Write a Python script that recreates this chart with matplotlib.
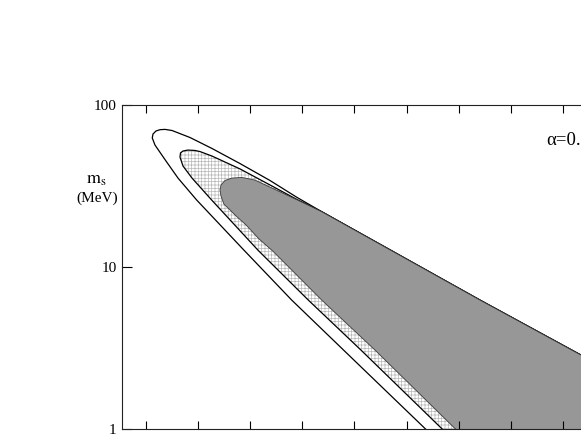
import numpy as np
import matplotlib
matplotlib.use("Agg")
import matplotlib.pyplot as plt
from matplotlib.ticker import FixedLocator, NullLocator, FixedFormatter

plt.rcParams['font.family'] = ['Liberation Serif', 'DejaVu Serif']
plt.rcParams['mathtext.fontset'] = 'stix'
plt.rcParams['hatch.linewidth'] = 0.5

# common upper edge (all three regions merge onto it)
ridge_x = [4.377, 7.404, 9.339, 12.385]
ridge_m = [21.9, 6.25, 2.86, 0.832]

# outer contour (white, black outline)
outer_x = [6.983, 6.351, 5.067, 3.797, 2.883, 1.977, 1.619, 1.389, 1.178, 1.126, 1.140, 1.197,
           1.274, 1.370, 1.504, 1.849, 2.270, 2.807, 3.381, 3.898]
outer_m = [0.644, 1.007, 2.52, 6.25, 12.7, 25.9, 35.4, 45.1, 56.6, 62.6, 66.2, 69.1,
           70.4, 70.7, 69.6, 63.0, 53.9, 43.5, 34.2, 26.9]

# middle contour (cross hatched)
mid_x = [7.289, 6.670, 5.124, 4.115, 3.151, 2.264, 1.887, 1.715, 1.657, 1.667, 1.715, 1.810,
         1.944, 2.040, 2.270, 2.807, 3.381, 3.898]
mid_m = [0.644, 1.007, 3.07, 6.25, 12.7, 25.9, 35.4, 42.0, 47.7, 50.6, 52.0, 52.7,
         52.4, 51.6, 48.4, 40.3, 32.1, 26.1]

# inner region (grey)
gray_x = [7.557, 6.925, 5.393, 4.372, 3.439, 3.171, 2.921, 2.728, 2.596, 2.500, 2.443, 2.423,
          2.443, 2.519, 2.653, 2.845, 3.094, 3.477, 3.898, 4.148]
gray_m = [0.644, 1.007, 3.07, 6.25, 12.5, 14.9, 18.2, 20.7, 22.8, 24.4, 27.4, 29.9,
          32.1, 34.2, 35.4, 35.7, 34.4, 30.1, 26.0, 23.8]

xticks = [1, 2, 3, 4, 5, 6, 7, 8, 9]
yticks = [1, 10, 100]
ytick_labels = ['1', '10', '100']
alpha_label = 'α=0.'


def closed(xs, ms):
    x = list(xs) + ridge_x + [ridge_x[-1]]
    m = list(ms) + ridge_m + [ms[0]]
    return x, m


fig = plt.figure(figsize=(5.81, 4.36), dpi=100)
ax = fig.add_axes([122.3 / 581, 7 / 436, 493.2 / 581, 324 / 436])
ax.set_yscale('log')

ox, om = closed(outer_x, outer_m)
mx, mm = closed(mid_x, mid_m)
gx, gm = closed(gray_x, gray_m)

ax.fill(ox, om, facecolor='white', edgecolor='black', lw=0.9, zorder=1)
ax.fill(mx, mm, facecolor='white', edgecolor='#b8b8b8', lw=0, hatch='+++++', zorder=1.1)
ax.fill(mx, mm, fill=False, edgecolor='black', lw=0.9, zorder=1.2)
ax.fill(gx, gm, facecolor='#979797', edgecolor='#3a3a3a', lw=0.6, zorder=1.3)

ax.set_xlim(0.552, 10.0)
ax.set_ylim(1, 100)

ax.xaxis.set_major_locator(FixedLocator(xticks))
ax.xaxis.set_minor_locator(NullLocator())
ax.yaxis.set_major_locator(FixedLocator(yticks))
ax.yaxis.set_major_formatter(FixedFormatter(ytick_labels))
ax.yaxis.set_minor_locator(NullLocator())
ax.tick_params(axis='x', direction='in', length=5.5, width=0.8, top=True, bottom=True,
               labelbottom=False)
ax.tick_params(axis='y', direction='in', length=7, width=0.8, left=True, right=True,
               labelsize=11, pad=4)
for s in ax.spines.values():
    s.set_linewidth(0.8)
    s.set_color('#222222')

fig.text(0.165, 0.578, r'$\mathrm{m_s}$', ha='center', va='baseline', fontsize=13)
fig.text(0.168, 0.537, '(MeV)', ha='center', va='baseline', fontsize=11)
fig.text(0.999, 0.667, alpha_label, ha='right', va='baseline', fontsize=13.5)

fig.savefig('out.png', dpi=100)
